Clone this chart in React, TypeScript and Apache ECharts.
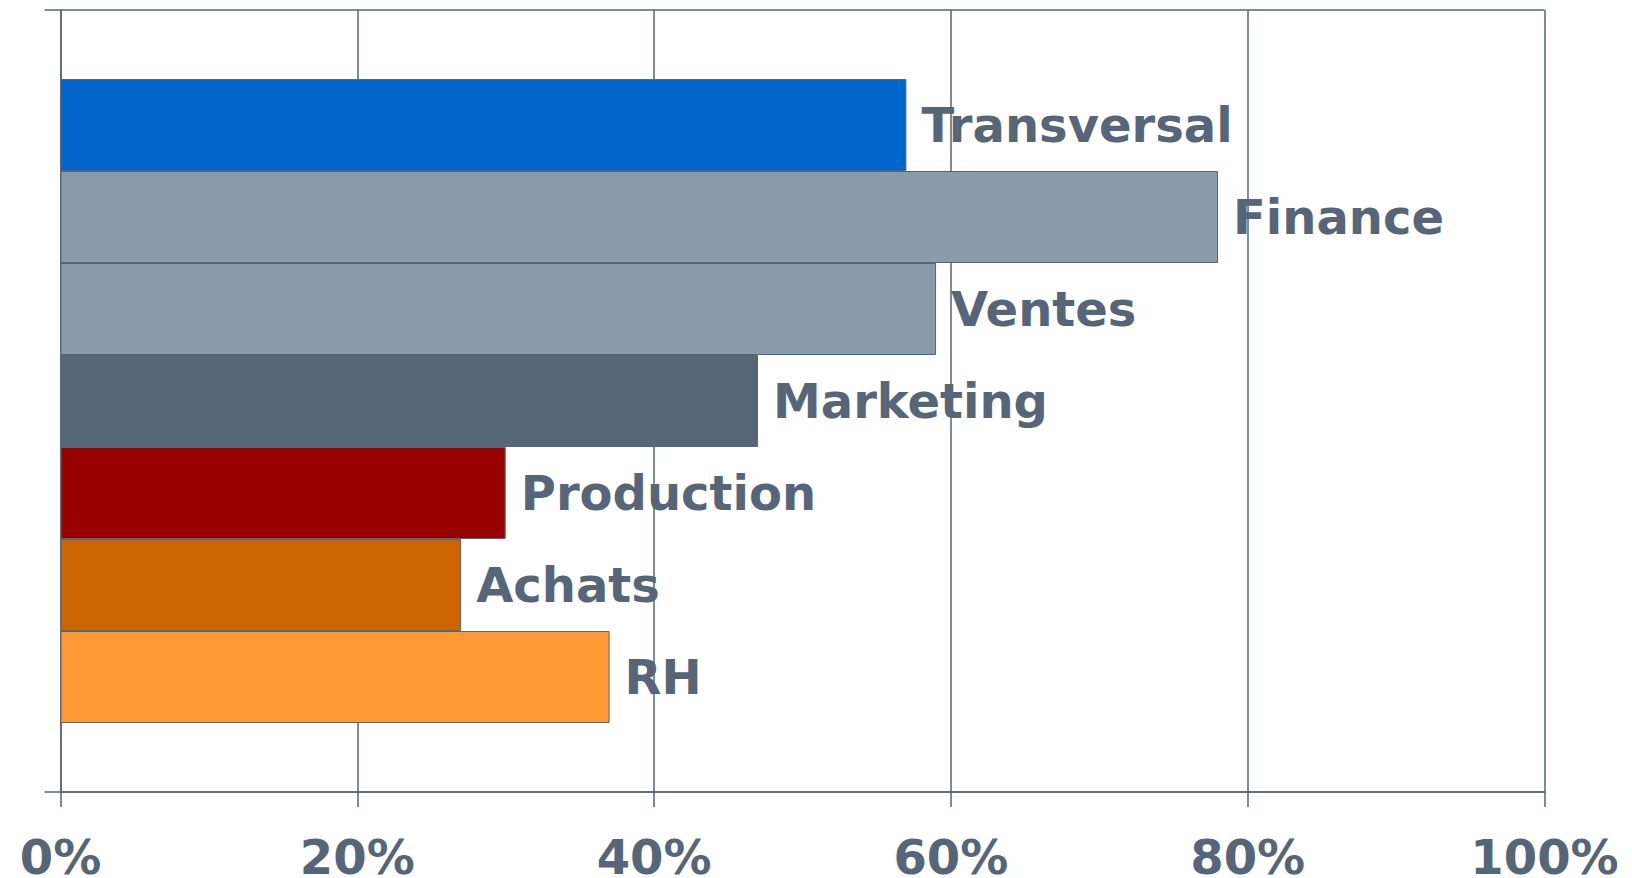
import React, { useEffect, useRef } from "react";
import * as echarts from "echarts";

const departments = ["Transversal", "Finance", "Ventes", "Marketing", "Production", "Achats", "RH"];
const shares = [57, 78, 59, 47, 30, 27, 37];
const barColors = ["#0066CC", "#8A9BAB", "#8A9BAB", "#566577", "#990000", "#CC6600", "#FF9933"];
const xTicks = [0, 20, 40, 60, 80, 100];

const INK = "#566577";

export default function App() {
  const ref = useRef<HTMLDivElement>(null);

  useEffect(() => {
    if (!ref.current) return;
    const chart = echarts.init(ref.current, undefined, { renderer: "svg" });
    const series = departments.map((name, i) => ({
      name,
      type: "bar",
      data: [shares[i]],
      barWidth: 92,
      barGap: "0%",
      itemStyle: { color: barColors[i], borderColor: INK, borderWidth: 1 },
      label: {
        show: true,
        position: "right",
        distance: 15,
        formatter: name,
        color: INK,
        fontSize: 48,
        fontWeight: "bold",
        fontFamily: "DejaVu Sans",
      },
    }));
    chart.setOption({
      animation: false,
      backgroundColor: "#ffffff",
      grid: {
        left: 60.5,
        right: 87.5,
        top: 10,
        bottom: 86,
        containLabel: false,
        outerBoundsMode: "none",
      },
      xAxis: {
        type: "value",
        min: xTicks[0],
        max: xTicks[xTicks.length - 1],
        interval: 20,
        axisLine: { show: true, lineStyle: { color: INK, width: 1.5 } },
        axisTick: { show: true, length: 15, lineStyle: { color: INK, width: 1.5 } },
        splitLine: { show: true, lineStyle: { color: INK, width: 1.5 } },
        axisLabel: {
          formatter: "{value}%",
          color: INK,
          fontSize: 48,
          lineHeight: 24,
          fontWeight: "bold",
          fontFamily: "DejaVu Sans",
          margin: 53,
        },
      },
      yAxis: {
        type: "category",
        data: [""],
        axisLine: { show: true, lineStyle: { color: INK, width: 1.5 } },
        axisTick: { show: true, length: 16, lineStyle: { color: INK, width: 1.5 } },
        axisLabel: { show: false },
        splitLine: { show: true, lineStyle: { color: INK, width: 1.5 } },
      },
      series,
    });
    return () => chart.dispose();
  }, []);

  return (
    <div
      ref={ref}
      style={{ position: "fixed", left: 0, top: 0, width: 1632, height: 878, background: "#fff" }}
    />
  );
}
